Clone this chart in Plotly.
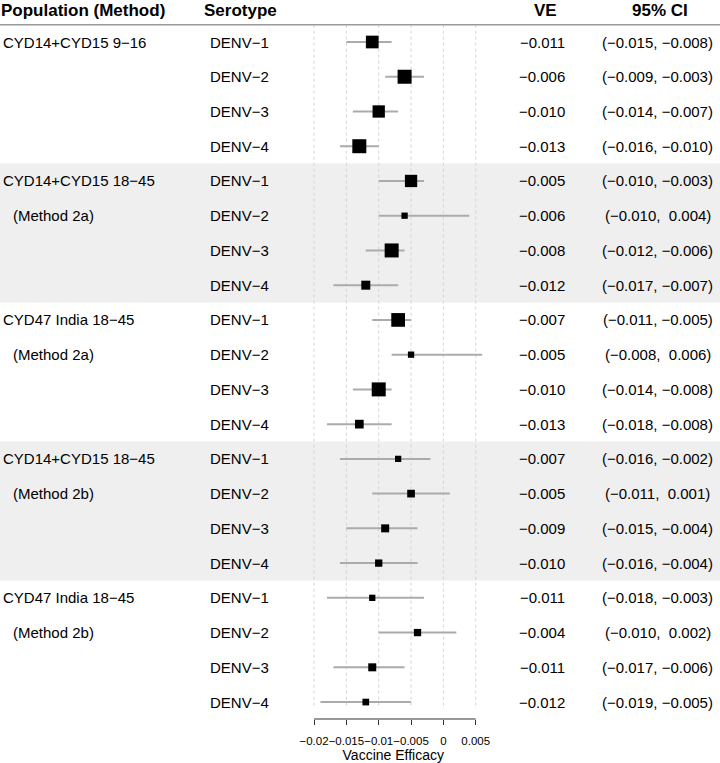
import plotly.graph_objects as go

populations = ["CYD14+CYD15 9−16", "CYD14+CYD15 18−45", "CYD47 India 18−45",
               "CYD14+CYD15 18−45", "CYD47 India 18−45"]
methods = ["", "(Method 2a)", "(Method 2a)", "(Method 2b)", "(Method 2b)"]
serotypes = ["DENV−1", "DENV−2", "DENV−3", "DENV−4"]

ve = [-0.011, -0.006, -0.010, -0.013,
      -0.005, -0.006, -0.008, -0.012,
      -0.007, -0.005, -0.010, -0.013,
      -0.007, -0.005, -0.009, -0.010,
      -0.011, -0.004, -0.011, -0.012]
ci_lo = [-0.015, -0.009, -0.014, -0.016,
         -0.010, -0.010, -0.012, -0.017,
         -0.011, -0.008, -0.014, -0.018,
         -0.016, -0.011, -0.015, -0.016,
         -0.018, -0.010, -0.017, -0.019]
ci_hi = [-0.008, -0.003, -0.007, -0.010,
         -0.003, 0.004, -0.006, -0.007,
         -0.005, 0.006, -0.008, -0.008,
         -0.002, 0.001, -0.004, -0.004,
         -0.003, 0.002, -0.006, -0.005]
weights = [12.7, 14, 12.3, 14,
           12.3, 6.3, 14, 9,
           13.7, 6.3, 14, 8.7,
           6.3, 7.7, 8, 7.3,
           6.3, 7.3, 8, 6.7]
x_ticks = [-0.02, -0.015, -0.01, -0.005, 0, 0.005]
x_tick_labels = ["−0.02", "−0.015", "−0.01", "−0.005", "0", "0.005"]
headers = ["Population (Method)", "Serotype", "VE", "95% CI"]

W, H = 720, 763
FONT = "Liberation Sans, Arial, sans-serif"
n = len(ve)
rows = list(range(n))


def fmt(v):
    return f"{v:.3f}".replace("-", "−")


def fmtw(v):
    return f"{v:6.3f}".replace("-", "−")


fig = go.Figure()

# CI lines
lx, ly = [], []
for i in rows:
    lx += [ci_lo[i], ci_hi[i], None]
    ly += [i, i, None]
fig.add_trace(go.Scatter(x=lx, y=ly, mode="lines",
                         line=dict(color="#ababab", width=2),
                         hoverinfo="skip", showlegend=False, cliponaxis=False))
# point estimates
fig.add_trace(go.Scatter(x=ve, y=rows, mode="markers",
                         marker=dict(symbol="square", color="black", size=weights,
                                     opacity=1, line=dict(width=0)),
                         showlegend=False, cliponaxis=False))

shapes = []
# alternating bands
for g in range(len(populations)):
    if g % 2 == 1:
        shapes.append(dict(type="rect", xref="paper", yref="y", x0=0, x1=1,
                           y0=4 * g - 0.5, y1=4 * g + 3.5, fillcolor="#efefef",
                           line=dict(width=0), layer="below"))
# dashed grid lines
for t in x_ticks:
    shapes.append(dict(type="line", xref="x", yref="y", x0=t, x1=t, y0=-0.5, y1=19.2,
                       line=dict(color="#d4d4d4", width=1, dash="3px,3px"), layer="below"))
# header rule
shapes.append(dict(type="line", xref="paper", yref="y", x0=0, x1=1, y0=-0.5, y1=-0.5,
                   line=dict(color="#9a9a9a", width=1.5)))
# axis line
shapes.append(dict(type="line", xref="x", yref="y domain", x0=x_ticks[0], x1=x_ticks[-1],
                   y0=0, y1=0, line=dict(color="#333333", width=1)))

ann = []
def txt(text, xpx, row, anchor, size=15):
    ann.append(dict(text=text, x=xpx / W, xref="paper", y=row, yref="y",
                    xanchor=anchor, yanchor="middle", showarrow=False,
                    font=dict(family=FONT, size=size, color="black")))

def head(text, xpx, anchor):
    ann.append(dict(text="<b>" + text + "</b>", x=xpx / W, xref="paper", y=1, yref="paper",
                    xanchor=anchor, yanchor="top", showarrow=False, borderpad=0,
                    font=dict(family=FONT, size=17, color="black")))

head(headers[0], 0, "left")
head(headers[1], 240, "center")
head(headers[2], 545.5, "center")
head(headers[3], 660, "center")

for g, pop in enumerate(populations):
    txt(pop, 1, 4 * g, "left")
    if methods[g]:
        txt(methods[g], 11, 4 * g + 1, "left")
for i in rows:
    txt(serotypes[i % 4], 239, i, "center")
    txt(fmt(ve[i]), 542, i, "center")
    txt(f"({fmtw(ci_lo[i])}, {fmtw(ci_hi[i])})".replace("( ", "("), 657.5, i, "center")

# pixel mapping
px_per_unit = 6468.0
x0_px = 443.4
xr = [-0.024, 0.0085]
dom_x = [(x0_px + xr[0] * px_per_unit) / W, (x0_px + xr[1] * px_per_unit) / W]
row_h = 34.74
axis_px = 719.0
y_top = -42.0 / row_h
y_bot = y_top + axis_px / row_h

fig.update_layout(
    width=W, height=H,
    margin=dict(l=0, r=0, t=0, b=0),
    paper_bgcolor="white", plot_bgcolor="rgba(0,0,0,0)",
    shapes=shapes, annotations=ann,
    font=dict(family=FONT, color="black"),
    xaxis=dict(domain=dom_x, range=xr, showgrid=False, zeroline=False, showline=False,
               tickmode="array", tickvals=x_ticks, ticktext=x_tick_labels,
               ticks="outside", ticklen=5, tickcolor="#333333", tickwidth=1,
               tickangle=0, ticklabelstandoff=6,
               tickfont=dict(family=FONT, size=11.5, color="black"),
               title=dict(text="Vaccine Efficacy", font=dict(family=FONT, size=14, color="black"),
                          standoff=1)),
    yaxis=dict(domain=[1 - axis_px / H, 1], range=[y_bot, y_top], visible=False,
               showgrid=False, zeroline=False),
)

fig.write_html("out.html", config={"displayModeBar": False})

# remove the browser's default page margin so the figure fills the window
with open("out.html", encoding="utf-8") as f:
    html = f.read()
html = html.replace("<head>", "<head><style>html,body{margin:0;padding:0;overflow:hidden;}</style>", 1)
with open("out.html", "w", encoding="utf-8") as f:
    f.write(html)
